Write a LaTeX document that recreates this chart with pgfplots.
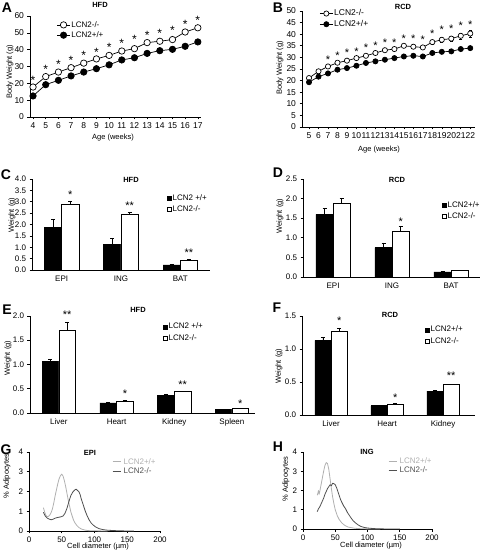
\documentclass[border=0pt]{standalone}
\usepackage{fontspec}
\setmainfont{Liberation Sans}
\usepackage{pgfplots}
\pgfplotsset{compat=1.18}
\definecolor{lg}{HTML}{B0B0B0}
\definecolor{dg}{HTML}{505050}
\newcommand{\fs}[1]{\fontsize{#1}{#1}\selectfont}
\pgfplotsset{
  base/.style={scale only axis, anchor=south west, axis lines=left,
    axis line style={-, black, line width=0.6pt},
    tick align=outside, major tick length=2.5pt,
    every tick/.style={black, line width=0.6pt},
    clip=false,
    /pgf/number format/assume math mode=true,
    tick label style={font=\fs{8}},
    legend style={draw=none, fill=none, inner sep=0pt, font=\fs{8}, anchor=north west,
      legend cell align=left, row sep=2pt, nodes={inner xsep=1pt, inner ysep=0.5pt}},
  },
  lc/.style={base, legend image code/.code={\draw[mark repeat=2, mark phase=2, ##1] plot coordinates {(0pt,0pt) (6.5pt,0pt) (13pt,0pt)};}},
  gc/.style={base, xmin=0, xmax=200, ymin=0, ymax=4, xtick={0,50,...,200}, ytick={0,1,...,4},
    legend image code/.code={\draw[##1] (0pt,0pt) -- (8pt,0pt);},
    legend style={row sep=1pt, nodes={inner xsep=2.5pt}}},
  bc/.style={base, ymin=0, xtick={0,...,3}, major x tick style={draw=none},
    yticklabel style={/pgf/number format/.cd, fixed, fixed zerofill, precision=1},
    legend image code/.code={\draw[##1, line width=0.5pt] (0pt,-2pt) rectangle (4pt,2pt);},
    legend style={row sep=3pt}},
  eb/.style={error bars/y dir=plus, error bars/y explicit,
    error bars/error bar style={black, line width=0.6pt},
    error bars/error mark options={rotate=90, black, mark size=2pt, line width=0.6pt}},
  bb/.style={ybar, bar width=0.29, bar shift=0pt, fill=black, draw=black, line width=0.6pt, eb},
  bw/.style={ybar, bar width=0.29, bar shift=0pt, fill=white, draw=black, line width=0.6pt, eb},
  st/.style={draw=none, mark=none, forget plot, nodes near coords, point meta=explicit symbolic,
    nodes near coords style={font=\fs{#1}, inner sep=0pt, anchor=base}},
  st/.default=11,
}
\begin{document}
\begin{tikzpicture}
\useasboundingbox (0pt,0pt) rectangle (481pt,552pt);

% ---------- A ----------
\begin{axis}[lc, at={(30pt,435pt)}, width=171pt, height=101pt,
  xmin=3.76, xmax=17.25, ymin=0, ymax=60, xtick={4,...,17}, ytick={0,10,...,60},
  tick label style={font=\fs{8.5}},
  legend style={at={(0.155,0.955)}}]
\addplot[black, line width=0.7pt, mark=*, mark size=3.2pt, mark options={fill=white, line width=0.7pt}]
  coordinates {(4,17.8) (5,24) (6,26.7) (7,29.3) (8,32) (9,34.5) (10,36.6) (11,39.2) (12,40.6) (13,44.2) (14,45) (15,46) (16,50.5) (17,53)};
\addlegendentry{LCN2-/-}
\addplot[black, line width=0.7pt, mark=*, mark size=3.2pt, mark options={fill=black}]
  coordinates {(4,12.5) (5,19.2) (6,21.8) (7,24.4) (8,26.7) (9,28.7) (10,31) (11,33.9) (12,35.2) (13,37.8) (14,39.4) (15,40.2) (16,42) (17,44.6)};
\addlegendentry{LCN2+/+}
\addplot[st=12] coordinates {(4,19.3)[*] (5,26)[*] (6,29)[*] (7,31.1)[*] (8,33.9)[*] (9,36.1)[*] (10,39.1)[*] (11,41)[*] (12,43.9)[*] (13,46)[*] (14,47.4)[*] (15,49)[*] (16,52.3)[*] (17,54.9)[*]};
\end{axis}

% ---------- B ----------
\begin{axis}[lc, at={(302pt,425pt)}, width=173pt, height=116pt,
  xmin=4.26, xmax=22.5, ymin=0, ymax=50, xtick={5,...,22}, ytick={0,5,...,50},
  tick label style={font=\fs{8.5}},
  legend style={font=\fs{8.5}, at={(0.1,1.017)}}]
\addplot[black, line width=0.7pt, mark=*, mark size=2.6pt, mark options={fill=white, line width=0.7pt},
  error bars/y dir=both, error bars/y explicit, error bars/error bar style={black, line width=0.6pt},
  error bars/error mark options={rotate=90, black, mark size=1.5pt}]
  coordinates {(5,21.1) (6,24) (7,26.1) (8,27.7) (9,28.6) (10,29.7) (11,30.7) (12,31.9) (13,33.1) (14,33.6) (15,35) (16,34.6) (17,34.3) (18,36.6) +- (0,1) (19,37.6) +- (0,1) (20,38.1) +- (0,1.2) (21,39.3) +- (0,1.3) (22,40.3) +- (0,1.4)};
\addlegendentry{LCN2-/-}
\addplot[black, line width=0.7pt, mark=*, mark size=2.6pt, mark options={fill=black}]
  coordinates {(5,19.3) (6,21.7) (7,23.1) (8,24.7) (9,25.4) (10,26.4) (11,27.6) (12,28.3) (13,29) (14,29.7) (15,30.4) (16,30.7) (17,30.4) (18,31.9) (19,32.4) (20,32.6) (21,33.6) (22,34)};
\addlegendentry{LCN2+/+}
\addplot[st=11] coordinates {(7,27.3)[*] (8,29.2)[*] (9,30.2)[*] (10,30.9)[*] (11,32.6)[*] (12,33.3)[*] (13,34.9)[*] (14,34.9)[*] (15,36.6)[*] (16,36.6)[*] (17,36.2)[*] (18,38.7)[*] (19,40.2)[*] (20,40.9)[*] (21,41.9)[*] (22,42.3)[*]};
\end{axis}

% ---------- C ----------
\begin{axis}[bc, at={(32pt,282pt)}, width=178pt, height=91pt,
  xmin=-0.5, xmax=2.5, ymax=4, ytick={0,0.5,...,4}, xticklabels={EPI,ING,BAT},
  legend style={at={(0.758,0.84)}}]
\addplot[bb] coordinates {(-0.145,1.87) +- (0,0.35) (0.855,1.14) +- (0,0.25) (1.855,0.22) +- (0,0.04)};
\addlegendentry{LCN2 +/+}
\addplot[bw] coordinates {(0.145,2.88) +- (0,0.12) (1.145,2.46) +- (0,0.06) (2.145,0.43) +- (0,0.03)};
\addlegendentry{LCN2-/-}
\addplot[st] coordinates {(0.145,3.15)[*] (1.145,2.67)[**] (2.145,0.58)[**]};
\end{axis}

% ---------- D ----------
\begin{axis}[bc, at={(303pt,275pt)}, width=177pt, height=98pt,
  xmin=-0.51, xmax=2.49, ymax=2.5, ytick={0,0.5,...,2.5}, xticklabels={EPI,ING,BAT},
  legend style={at={(0.785,0.78)}}]
\addplot[bb] coordinates {(-0.145,1.6) +- (0,0.16) (0.855,0.75) +- (0,0.12) (1.855,0.13) +- (0,0.01)};
\addlegendentry{LCN2+/+}
\addplot[bw] coordinates {(0.145,1.87) +- (0,0.14) (1.145,1.16) +- (0,0.14) (2.145,0.16) +- (0,0.01)};
\addlegendentry{LCN2-/-}
\addplot[st] coordinates {(1.145,1.32)[*]};
\end{axis}

% ---------- E ----------
\begin{axis}[bc, at={(30pt,139pt)}, width=225pt, height=97pt,
  xmin=-0.5, xmax=3.4, ymax=2, ytick={0,0.5,...,2}, xticklabels={Liver,Heart,Kidney,Spleen},
  legend style={at={(0.591,0.933)}}]
\addplot[bb] coordinates {(-0.145,1.06) +- (0,0.04) (0.855,0.21) +- (0,0.01) (1.855,0.37) +- (0,0.01) (2.855,0.07) +- (0,0.005)};
\addlegendentry{LCN2 +/+}
\addplot[bw] coordinates {(0.145,1.71) +- (0,0.17) (1.145,0.25) +- (0,0.01) (2.145,0.44) +- (0,0.01) (3.145,0.09) +- (0,0.005)};
\addlegendentry{LCN2-/-}
\addplot[st] coordinates {(0.145,1.94)[**] (1.145,0.32)[*] (2.145,0.51)[**] (3.145,0.12)[*]};
\end{axis}

% ---------- F ----------
\begin{axis}[bc, at={(302pt,137pt)}, width=173pt, height=99pt,
  xmin=-0.52, xmax=2.57, ymax=1.5, ytick={0,0.5,...,1.5}, xticklabels={Liver,Heart,Kidney},
  legend style={at={(0.711,0.904)}}]
\addplot[bb] coordinates {(-0.145,1.13) +- (0,0.04) (0.855,0.14) +- (0,0.01) (1.855,0.36) +- (0,0.01)};
\addlegendentry{LCN2+/+}
\addplot[bw] coordinates {(0.145,1.27) +- (0,0.05) (1.145,0.16) +- (0,0.01) (2.145,0.46) +- (0,0.005)};
\addlegendentry{LCN2-/-}
\addplot[st] coordinates {(0.145,1.37)[*] (1.145,0.2)[*] (2.145,0.54)[**]};
\end{axis}

% ---------- G ----------
\begin{axis}[gc, at={(29pt,21pt)}, width=131pt, height=79pt,
  legend style={at={(0.634,0.93)}}]
\addplot[lg, line width=0.8pt, line join=round] coordinates {(22,1.18) (24,0.95) (26,0.78) (28,0.72) (30,0.75) (32,0.82) (34,0.95) (36,1.15) (38,1.45) (40,1.8) (42,2.1) (44,2.4) (46,2.65) (48,2.8) (50,2.88) (52,2.78) (54,2.55) (56,2.25) (58,1.9) (60,1.55) (62,1.25) (64,0.95) (66,0.75) (68,0.55) (70,0.42) (73,0.28) (76,0.18) (80,0.1) (85,0.05) (90,0.02) (100,0.01) (120,0)};
\addlegendentry{\textcolor{lg}{LCN2+/+}}
\addplot[dg, line width=0.8pt, line join=round] coordinates {(22,0.95) (25,0.75) (28,0.65) (31,0.6) (34,0.57) (37,0.6) (40,0.65) (43,0.68) (46,0.7) (49,0.72) (52,0.76) (55,0.9) (58,1.15) (61,1.5) (64,1.8) (67,1.98) (70,2.08) (72,2.12) (74,2.05) (76,2.0) (78,1.85) (80,1.6) (83,1.3) (86,1.0) (89,0.75) (92,0.55) (95,0.4) (98,0.3) (102,0.2) (107,0.12) (113,0.07) (120,0.04) (130,0.02) (145,0.005) (160,0)};
\addlegendentry{\textcolor{dg}{LCN2-/-}}
\end{axis}

% ---------- H ----------
\begin{axis}[gc, at={(303pt,23pt)}, width=129pt, height=77pt,
  legend style={at={(0.66,0.94)}}]
\addplot[lg, line width=0.8pt, line join=round] coordinates {(22,1.75) (23,1.85) (24,2.0) (25,1.8) (26,1.95) (28,2.3) (30,2.65) (32,3.0) (34,3.3) (36,3.45) (38,3.4) (40,3.1) (42,2.6) (44,2.1) (46,1.65) (48,1.3) (50,1.0) (53,0.7) (56,0.5) (60,0.32) (65,0.18) (70,0.1) (80,0.04) (90,0.015) (100,0.005) (120,0)};
\addlegendentry{\textcolor{lg}{LCN2+/+}}
\addplot[dg, line width=0.8pt, line join=round] coordinates {(22,0.9) (24,1.05) (26,1.15) (28,1.3) (30,1.45) (32,1.6) (34,1.8) (36,1.95) (38,2.1) (40,2.2) (42,2.3) (44,2.25) (46,2.38) (48,2.35) (50,2.3) (52,2.15) (54,1.95) (56,1.75) (58,1.55) (60,1.4) (63,1.2) (66,1.05) (69,0.85) (72,0.7) (75,0.55) (78,0.42) (82,0.3) (86,0.2) (90,0.13) (95,0.08) (100,0.05) (110,0.02) (125,0.005) (150,0)};
\addlegendentry{\textcolor{dg}{LCN2-/-}}
\end{axis}

% ---------- panel letters ----------
\begin{scope}[every node/.style={font=\bfseries\fs{14}}]
\node at (7pt,544pt) {A};
\node at (278pt,544pt) {B};
\node at (6pt,377pt) {C};
\node at (278pt,379pt) {D};
\node at (7pt,242pt) {E};
\node at (277pt,244pt) {F};
\node at (6pt,102pt) {G};
\node at (278pt,105pt) {H};
\end{scope}
% ---------- titles ----------
\begin{scope}[every node/.style={font=\bfseries\fs{7.5}}]
\node at (100pt,547pt) {HFD};
\node at (403pt,545.5pt) {RCD};
\node at (131pt,372pt) {HFD};
\node at (397pt,372pt) {RCD};
\node at (138pt,242pt) {HFD};
\node at (390pt,237pt) {RCD};
\node at (90pt,99pt) {EPI};
\node at (367pt,100pt) {ING};
\end{scope}
% ---------- axis labels ----------
\begin{scope}[every node/.style={font=\fs{7.5}}]
\node[rotate=90] at (10pt,480pt) {Body Weight (g)};
\node[rotate=90] at (280pt,484pt) {Body Weight (g)};
\node[rotate=90] at (12pt,337pt) {Weight (g)};
\node[rotate=90] at (280pt,336pt) {Weight (g)};
\node[rotate=90] at (8pt,194pt) {Weight (g)};
\node[rotate=90] at (279pt,186pt) {Weight (g)};
\node[rotate=90] at (7pt,76pt) {\% Adipocytes};
\node[rotate=90] at (286pt,73pt) {\% Adipocytes};
\node at (113pt,414pt) {Age (weeks)};
\node at (379pt,402pt) {Age (weeks)};
\node at (98pt,5pt) {Cell diameter (µm)};
\node at (371pt,6pt) {Cell diameter (µm)};
\end{scope}
\end{tikzpicture}
\end{document}
